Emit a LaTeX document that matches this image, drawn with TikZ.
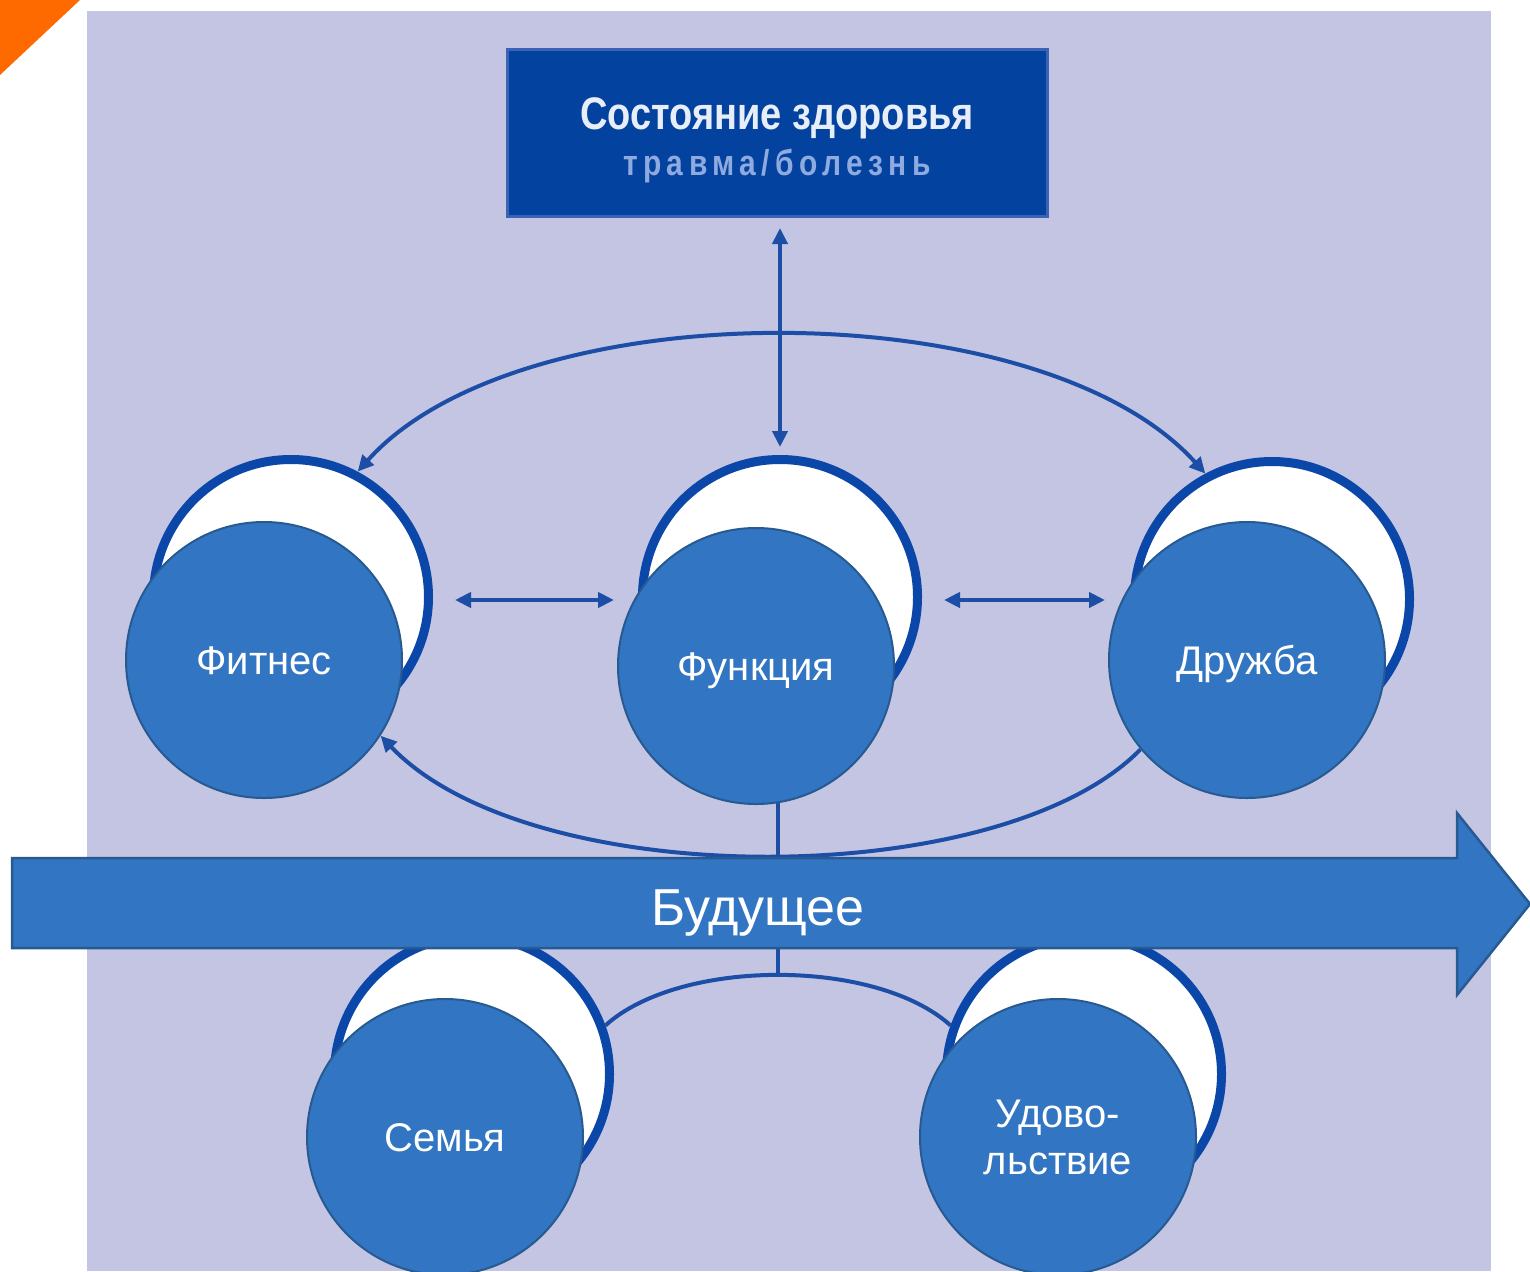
\documentclass[tikz,border=0pt]{standalone}
\usepackage{fontspec}
\usepackage{graphicx}
\setmainfont{Liberation Sans}
\usetikzlibrary{arrows.meta}
\definecolor{bglav}{HTML}{C4C4E3}
\definecolor{orng}{HTML}{FF6A00}
\definecolor{ringblue}{HTML}{0A47A8}
\definecolor{lineblue}{HTML}{1C4EA6}
\definecolor{circblue}{HTML}{3275C2}
\definecolor{circedge}{HTML}{285A92}
\definecolor{boxblue}{HTML}{0442A0}
\definecolor{boxedge}{HTML}{3A63B5}
\definecolor{toptext}{HTML}{E8EEF8}
\definecolor{subtext}{HTML}{8EAADF}
\pgfdeclarelayer{backlayer}
\pgfdeclarelayer{connlayer}
\pgfsetlayers{backlayer,connlayer,main}
\begin{document}
\begin{tikzpicture}[x=1pt,y=-1pt,
  ring/.style={circle, draw=ringblue, line width=9pt, fill=white, minimum size=275pt, inner sep=0pt},
  bub/.style={circle, draw=circedge, line width=2pt, fill=circblue, minimum size=276pt, inner sep=0pt,
              text=white, font=\fontsize{40}{47}\selectfont, align=center},
  oneline/.style={text height=29pt, text depth=0pt},
  conn/.style={draw=lineblue, line width=4pt},
  biarr/.style={{Triangle[length=16pt,width=15pt]}-{Triangle[length=16pt,width=15pt]}},
  endarr/.style={-{Triangle[length=16pt,width=15pt]}},
  topbox/.style={draw=boxedge, line width=3pt, fill=boxblue, minimum width=540pt, minimum height=167pt,
                 inner sep=0pt, align=center, text=toptext}
]
\useasboundingbox (0,0) rectangle (1530,1271);
\begin{pgfonlayer}{backlayer}
  \fill[white] (0,0) rectangle (1530,1271);
  \fill[bglav] (87,11) rectangle (1491,1271);
  \fill[orng] (0,0) -- (80,0) -- (0,75) -- cycle;
\end{pgfonlayer}

% top box
\node[topbox] (health) at (777,133)
  {\rule{0pt}{46pt}\scalebox{1}[1.2]{\fontsize{38}{44}\selectfont\bfseries Состояние здоровья}\\[9pt]
   \scalebox{1}[1.2]{\color{subtext}\fontsize{30}{34}\selectfont\bfseries\addfontfeature{LetterSpace=18}травма/болезнь}};

% rings
\node[ring] (fitring) at (291,597) {};
\node[ring] (funring) at (780,597) {};
\node[ring] (druring) at (1272,599) {};
\node[ring] (semring) at (472,1074) {};
\node[ring] (udring)  at (1084,1074) {};

% main circles
\node[bub, oneline] (fit) at (264,660) {Фитнес};
\node[bub, oneline] (fun) at (756,666) {Функция};
\node[bub, oneline] (dru) at (1247,660) {Дружба};
\node[bub, oneline] (sem) at (445,1137) {Семья};
\node[bub] (ud)  at (1058,1137) {Удово-\\льствие};

% future arrow
\draw[fill=circblue, draw=circedge, line width=2.5pt]
  (12,858) -- (1457,858) -- (1457,813) -- (1530,904) -- (1457,995) -- (1457,948) -- (12,948) -- cycle;
\node[text=white, font=\fontsize{52}{60}\selectfont] (fut) at (758,913) {Будущее};
\coordinate (futtop) at (778,858);
\coordinate (futbot) at (778,948);
\coordinate (bapex) at (778,976);

\begin{pgfonlayer}{connlayer}
  % vertical top double arrow
  \draw[conn, biarr, shorten <=10pt, shorten >=8pt] (health.south -| funring.north) -- (funring.north);
  % upper ellipse arc
  \draw[conn, biarr] (fitring.62) .. controls (520,290) and (1040,290) .. (druring.118);
  % lower ellipse arc
  \draw[conn, endarr] (dru.220) .. controls (1000,893) and (530,893) .. (fit.-33);
  % horizontal double arrows
  \draw[conn, biarr, shorten <=22pt, shorten >=3pt] (fitring.east |- 0,600) -- (fun.west |- 0,600);
  \draw[conn, biarr, shorten <=22pt, shorten >=3pt] (funring.east |- 0,600) -- (dru.west |- 0,600);
  % links to the future arrow
  \draw[conn] (fun.-81) -- (fun.-81 |- futtop);
  \draw[conn] (futbot) -- (bapex);
  \draw[conn] (semring.20) .. controls (680,958) and (876,958) .. (udring.160);
\end{pgfonlayer}
\end{tikzpicture}
\end{document}
